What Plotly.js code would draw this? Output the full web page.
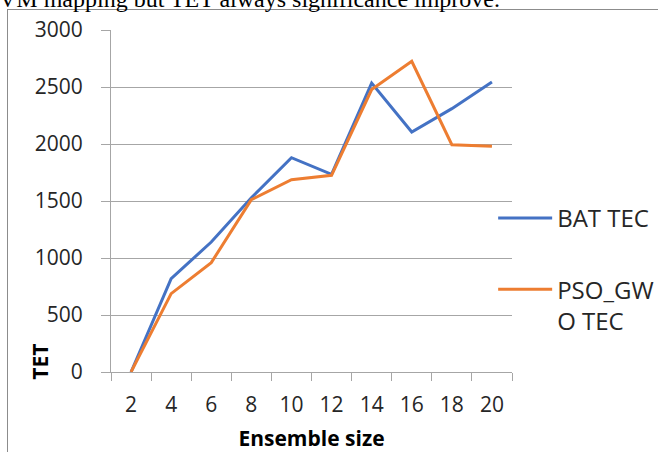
<!DOCTYPE html>
<html>
<head>
<meta charset="utf-8">
<script src="https://cdn.plot.ly/plotly-3.0.1.min.js"></script>
<style>
  html, body { margin: 0; padding: 0; background: #fff; }
  #wrap { position: relative; width: 658px; height: 452px; overflow: hidden; }
  #chart { position: absolute; left: 0; top: 0; width: 658px; height: 452px; }
  #frame { position: absolute; left: 7px; top: 9px; width: 800px; height: 600px;
           border-left: 1px solid #8c8c8c; border-top: 1px solid #8c8c8c; pointer-events: none; }
  #caption { position: absolute; left: -1px; top: -13px; font-family: "Liberation Serif", serif;
             font-size: 24px; line-height: 24px; white-space: nowrap; color: #000; }
</style>
</head>
<body>
<div id="wrap">
  <div id="chart"></div>
  <div id="frame"></div>
  <div id="caption">VM mapping but TET always significance improve.</div>
</div>
<script>
const ensembleSize = ["2", "4", "6", "8", "10", "12", "14", "16", "18", "20"];
const batTec = [0, 819, 1140, 1529, 1880, 1734, 2535, 2105, 2310, 2544];
const psoGwoTec = [0, 687, 959, 1512, 1687, 1725, 2477, 2725, 1994, 1980];
const seriesNames = ["BAT TEC", "PSO_GW<br>O TEC"];
const yTicks = [0, 500, 1000, 1500, 2000, 2500, 3000];

const FONT = "'Open Sans', 'Noto Sans', sans-serif";
const traces = [
  { x: ensembleSize, y: batTec, name: seriesNames[0], type: "scatter", mode: "lines",
    line: { color: "#4472C4", width: 3 }, legendgroup: "a" },
  { x: ensembleSize, y: psoGwoTec, name: seriesNames[1], type: "scatter", mode: "lines",
    line: { color: "#ED7D31", width: 3 }, legendgroup: "b" }
];

const layout = {
  width: 658, height: 452,
  margin: { l: 111, r: 146, t: 30, b: 80, autoexpand: false },
  paper_bgcolor: "rgba(0,0,0,0)", plot_bgcolor: "rgba(0,0,0,0)",
  font: { family: FONT, size: 21, color: "#262626" },
  showlegend: true,
  legend: { x: 0.953, xanchor: "left", y: 0.515, yanchor: "top", bgcolor: "rgba(0,0,0,0)",
            font: { family: FONT, size: 24, color: "#262626" }, tracegroupgap: 37,
            traceorder: "grouped", valign: "top", itemwidth: 54 },
  xaxis: {
    type: "category", range: [-0.5, 9.5], fixedrange: true,
    showline: true, linecolor: "#a6a6a6", linewidth: 1,
    showgrid: false, zeroline: false,
    ticks: "outside", tickson: "boundaries", ticklen: 8, tickcolor: "#a6a6a6",
    tickfont: { family: FONT, size: 21, color: "#262626" },
    ticklabelstandoff: 14,
    title: { text: "<b>Ensemble size</b>", font: { family: FONT, size: 21, color: "#000" }, standoff: 14 }
  },
  yaxis: {
    range: [0, 3000], tickvals: yTicks, fixedrange: true,
    showline: true, linecolor: "#a6a6a6", linewidth: 1,
    showgrid: true, gridcolor: "#a6a6a6", gridwidth: 1, zeroline: false,
    ticks: "outside", ticklen: 9, tickcolor: "#a6a6a6",
    tickfont: { family: FONT, size: 21, color: "#262626" },
    ticklabelstandoff: 14
  },
  annotations: [
    { text: "<b>TET</b>", xref: "paper", yref: "paper", x: -0.177, y: 0.03,
      xanchor: "center", yanchor: "middle", textangle: -90, showarrow: false,
      font: { family: FONT, size: 21, color: "#000" } }
  ]
};

Plotly.newPlot("chart", traces, layout, { staticPlot: true, displayModeBar: false });
</script>
</body>
</html>
